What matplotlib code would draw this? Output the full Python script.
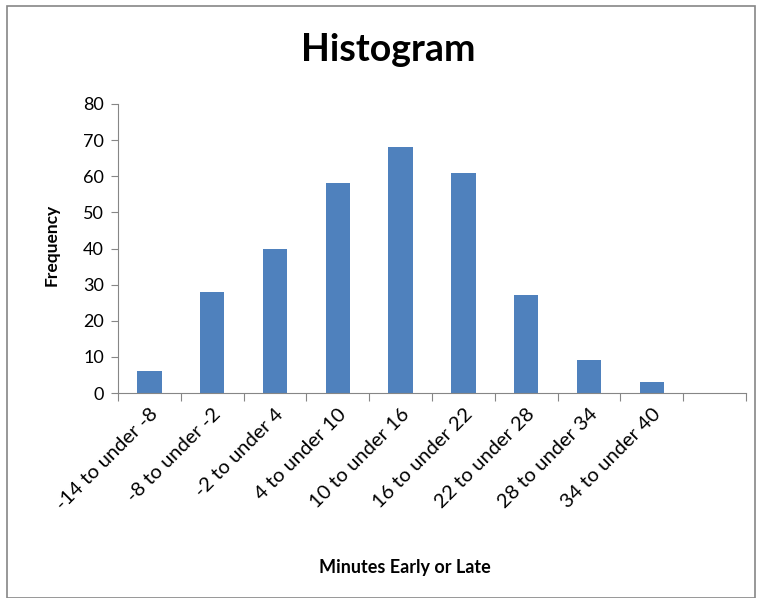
import matplotlib.pyplot as plt
import numpy as np
from matplotlib.patches import Rectangle

plt.rcParams['font.family'] = ['Lato', 'DejaVu Sans']

# bins and counts
categories = ['-14 to under -8', '-8 to under -2', '-2 to under 4', '4 to under 10',
              '10 to under 16', '16 to under 22', '22 to under 28', '28 to under 34',
              '34 to under 40', '']
counts = [6, 28, 40, 58, 68, 61, 27, 9, 3, 0]
yticks = [0, 10, 20, 30, 40, 50, 60, 70, 80]

W, H = 761, 598
fig = plt.figure(figsize=(W/100, H/100), dpi=100)
ax = fig.add_axes([118/W, 1-393/H, (746-118)/W, (393-104)/H])

x = np.arange(len(categories))
ax.bar(x, counts, width=0.39, color='#4F81BD', linewidth=0)

ax.set_xlim(-0.5, len(categories)-0.5)
ax.set_ylim(0, 80)
ax.set_yticks(yticks)
ax.set_xticks(np.arange(len(categories)+1)-0.5)
ax.set_xticklabels([])
ax.set_xticks(x, minor=True)
ax.set_xticklabels(categories, minor=True, rotation=45, ha='right', va='top',
                   rotation_mode='anchor', fontsize=14.5)
ax.tick_params(axis='x', which='minor', length=0, pad=9)
ax.tick_params(axis='x', which='major', length=6, color='#868686', direction='out')
ax.tick_params(axis='y', length=5, color='#868686', labelsize=13, pad=5)

for s in ['top', 'right']:
    ax.spines[s].set_visible(False)
for s in ['left', 'bottom']:
    ax.spines[s].set_color('#868686')

fig.text(52/W, 1-245/H, 'Frequency', ha='center', va='center', rotation=90,
         fontsize=12.5, fontweight='bold')
fig.text(405/W, 1-567/H, 'Minutes Early or Late', ha='center', va='center',
         fontsize=13, fontweight='bold')
fig.text(388/W, 1-50/H, 'Histogram', ha='center', va='center',
         fontsize=27, fontweight='bold')

# chart frame
fig.patches.append(Rectangle((7/W, 0), (755-7)/W, 1-6/H, transform=fig.transFigure,
                             fill=False, edgecolor='#868686', linewidth=1.2))

fig.savefig('out.png', dpi=100)
